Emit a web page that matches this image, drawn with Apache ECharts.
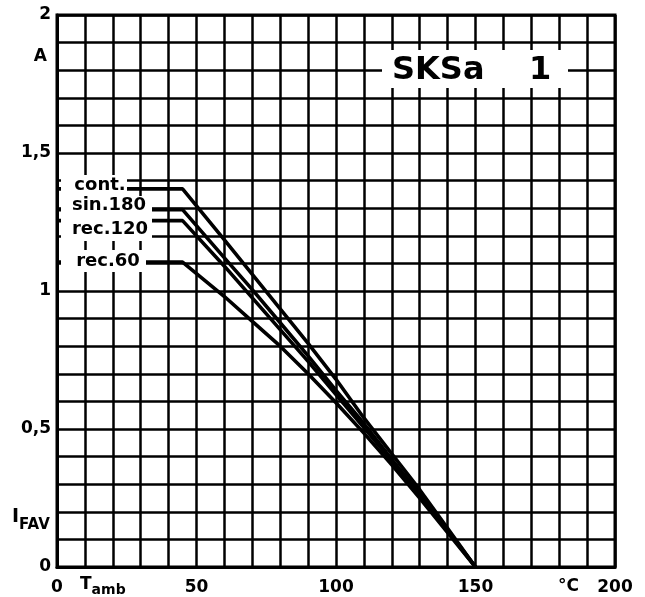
<!DOCTYPE html>
<html>
<head>
<meta charset="utf-8">
<script src="https://cdn.jsdelivr.net/npm/echarts@6/dist/echarts.min.js"></script>
<style>html,body{margin:0;padding:0;background:#fff;}#c{width:645px;height:597px;}</style>
</head>
<body>
<div id="c"></div>
<script>
// ambient temperature (°C)
const temps = [0, 45, 60, 70, 80, 90, 100, 110, 120, 130, 140, 150];
// I_FAV (A) for each operating mode
const cont   = [1.37, 1.37, 1.185, 1.06, 0.935, 0.81, 0.68, 0.54, 0.41, 0.28, 0.14, 0];
const sin180 = [1.295, 1.295, 1.12, 1.005, 0.885, 0.765, 0.64, 0.52, 0.39, 0.265, 0.135, 0];
const rec120 = [1.255, 1.255, 1.09, 0.975, 0.86, 0.745, 0.625, 0.505, 0.385, 0.26, 0.13, 0];
const rec60  = [1.105, 1.105, 0.98, 0.89, 0.80, 0.70, 0.595, 0.485, 0.37, 0.25, 0.125, 0];
const seriesNames = ['cont.', 'sin.180', 'rec.120', 'rec.60'];
const xTickLabels = [0, 50, 100, 150, 200];
const yTickLabels = ['0', '0,5', '1', '1,5', '2'];

const F = '"DejaVu Sans", Verdana, sans-serif';
const chart = echarts.init(document.getElementById('c'), null, {renderer: 'canvas'});

function mk(name, arr) {
  return {
    name: name, type: 'line', symbol: 'none', smooth: false,
    lineStyle: {color: '#000', width: 3.6}, z: 5,
    data: temps.map((t, i) => [t, arr[i]])
  };
}
function bg(x, y, w, h) {
  return {type: 'rect', z: 99, shape: {x: x, y: y, width: w, height: h}, style: {fill: '#fff'}};
}
function lab(i, cx, cy) {
  return {type: 'text', z: 101, x: cx, y: cy, style: {text: seriesNames[i], font: 'bold 18px ' + F, fill: '#000', align: 'center', verticalAlign: 'middle'}};
}

const option = {
  backgroundColor: '#fff',
  animation: false,
  grid: {left: 57, right: 30, top: 15, bottom: 30, show: true, borderColor: '#000', borderWidth: 3},
  xAxis: {
    type: 'value', min: 0, max: 200, interval: 10,
    axisLine: {show: true, lineStyle: {color: '#000', width: 3}},
    axisTick: {show: false},
    splitLine: {show: true, lineStyle: {color: '#000', width: 2.5}},
    axisLabel: {
      margin: 12, color: '#000', fontFamily: F, fontWeight: 'bold', fontSize: 17,
      formatter: v => xTickLabels.indexOf(Math.round(v)) >= 0 ? String(Math.round(v)) : ''
    }
  },
  yAxis: {
    type: 'value', min: 0, max: 2, interval: 0.1,
    axisLine: {show: true, lineStyle: {color: '#000', width: 3}},
    axisTick: {show: false},
    splitLine: {show: true, lineStyle: {color: '#000', width: 2.5}},
    axisLabel: {
      margin: 6, color: '#000', fontFamily: F, fontWeight: 'bold', fontSize: 17,
      formatter: v => { const k = Math.round(v * 10); return k % 5 === 0 ? yTickLabels[k / 5] : ''; }
    }
  },
  series: [mk(seriesNames[0], cont), mk(seriesNames[1], sin180), mk(seriesNames[2], rec120), mk(seriesNames[3], rec60)],
  graphic: [
    {type: 'rect', z: 100, shape: {x: 382, y: 50, width: 186, height: 38}, style: {fill: '#fff'}},
    {type: 'text', z: 101, x: 392, y: 71, style: {text: 'SKSa    1', font: 'bold 32px ' + F, fill: '#000', verticalAlign: 'middle', align: 'left'}},
    {type: 'text', z: 101, x: 47, y: 57, style: {text: 'A', font: 'bold 17px ' + F, fill: '#000', verticalAlign: 'middle', align: 'right'}},
    {type: 'text', z: 101, x: 12, y: 520, style: {
      text: '{i|I}{s|FAV}', align: 'left', verticalAlign: 'middle', fill: '#000',
      rich: {i: {font: 'bold 19px ' + F, fill: '#000', verticalAlign: 'top', padding: [0, 0, 6, 0]},
             s: {font: 'bold 15px ' + F, fill: '#000', verticalAlign: 'bottom', padding: [8, 0, 0, 0]}}
    }},
    {type: 'text', z: 101, x: 80, y: 587, style: {
      text: '{t|T}{s|amb}', align: 'left', verticalAlign: 'middle', fill: '#000',
      rich: {t: {font: 'bold 17px ' + F, fill: '#000', padding: [0, 0, 4, 0]},
             s: {font: 'bold 14px ' + F, fill: '#000', padding: [6, 0, 0, 0]}}
    }},
    {type: 'text', z: 101, x: 558, y: 587, style: {text: '°C', font: 'bold 17px ' + F, fill: '#000', verticalAlign: 'middle', align: 'left'}},
    bg(61, 175, 66, 21), bg(61, 196, 91, 21), bg(61, 217, 91, 24), bg(61, 250, 85, 22),
    lab(0, 100, 185), lab(1, 109, 205), lab(2, 110, 229), lab(3, 108, 261)
  ]
};
chart.setOption(option);
</script>
</body>
</html>
